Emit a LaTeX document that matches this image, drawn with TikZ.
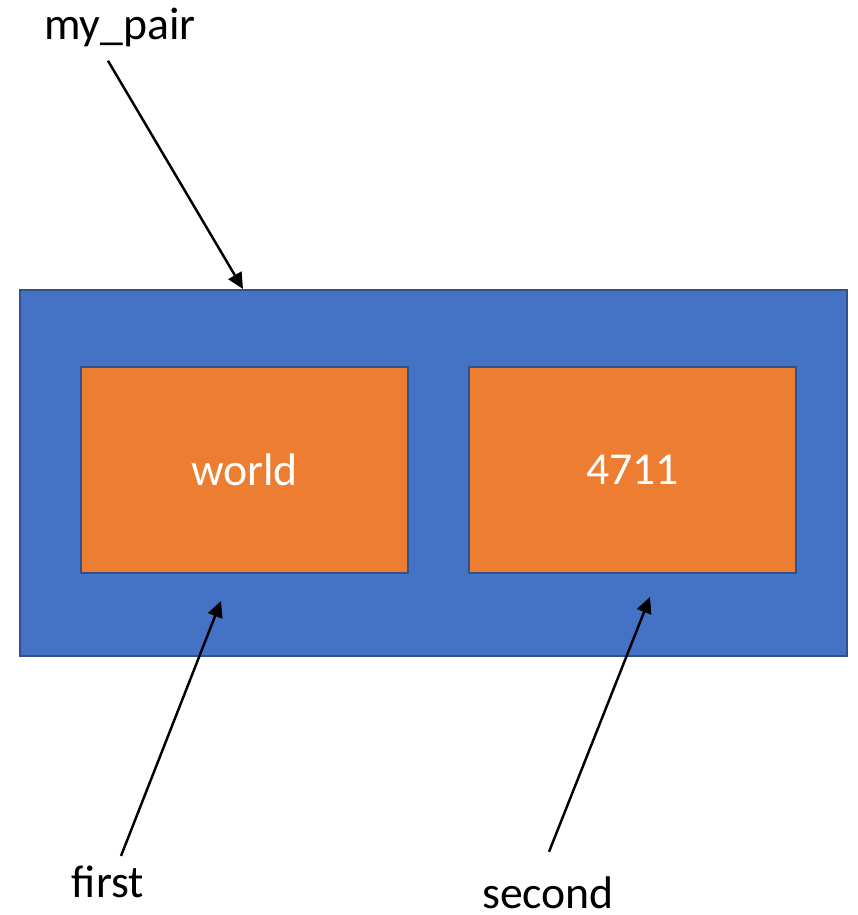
\documentclass[tikz,border=0pt]{standalone}
\usepackage{fontspec}
\setmainfont{Carlito}
\usepackage{xcolor}
\usetikzlibrary{arrows.meta}

\definecolor{pairblue}{HTML}{4472C4}
\definecolor{edgeblue}{HTML}{2F528F}
\definecolor{fieldorange}{HTML}{ED7D31}

\begin{document}
\begin{tikzpicture}[x=0.01cm, y=-0.01cm,
    box/.style={draw=edgeblue, line width=0.6pt, inner sep=0pt},
    field/.style={box, fill=fieldorange, minimum width=3.27cm, minimum height=2.06cm,
        text=white, font=\fontsize{13}{15}\selectfont},
    lbl/.style={anchor=base, font=\fontsize{13}{15}\selectfont},
    pointer/.style={line width=0.7pt, -{Triangle[length=1.6mm, width=1.5mm]}}]
    \useasboundingbox (0,0) rectangle (858,915);
    % the pair and its two members
    \node[box, fill=pairblue, minimum width=8.27cm, minimum height=3.66cm] (pair) at (433.5,473) {};
    \node[field] (first) at (244.5,470) {world};
    \node[field] (second) at (632.5,470) {4711};
    % names
    \node[lbl] (pairname) at (120,39) {my\_pair};
    \node[lbl] (firstname) at (108,897) {first};
    \node[lbl] (secondname) at (548,908) {second};
    % where the pointers end
    \coordinate (ptop) at (243,289);
    \coordinate (pfirst) at (221,601);
    \coordinate (psecond) at (650,597);
    \draw[pointer] (pairname.south) ++(-12,2) -- (ptop);
    \draw[pointer] (firstname.north) ++(13,3) -- (pfirst);
    \draw[pointer] (secondname.north) ++(1,-12) -- (psecond);
\end{tikzpicture}
\end{document}
